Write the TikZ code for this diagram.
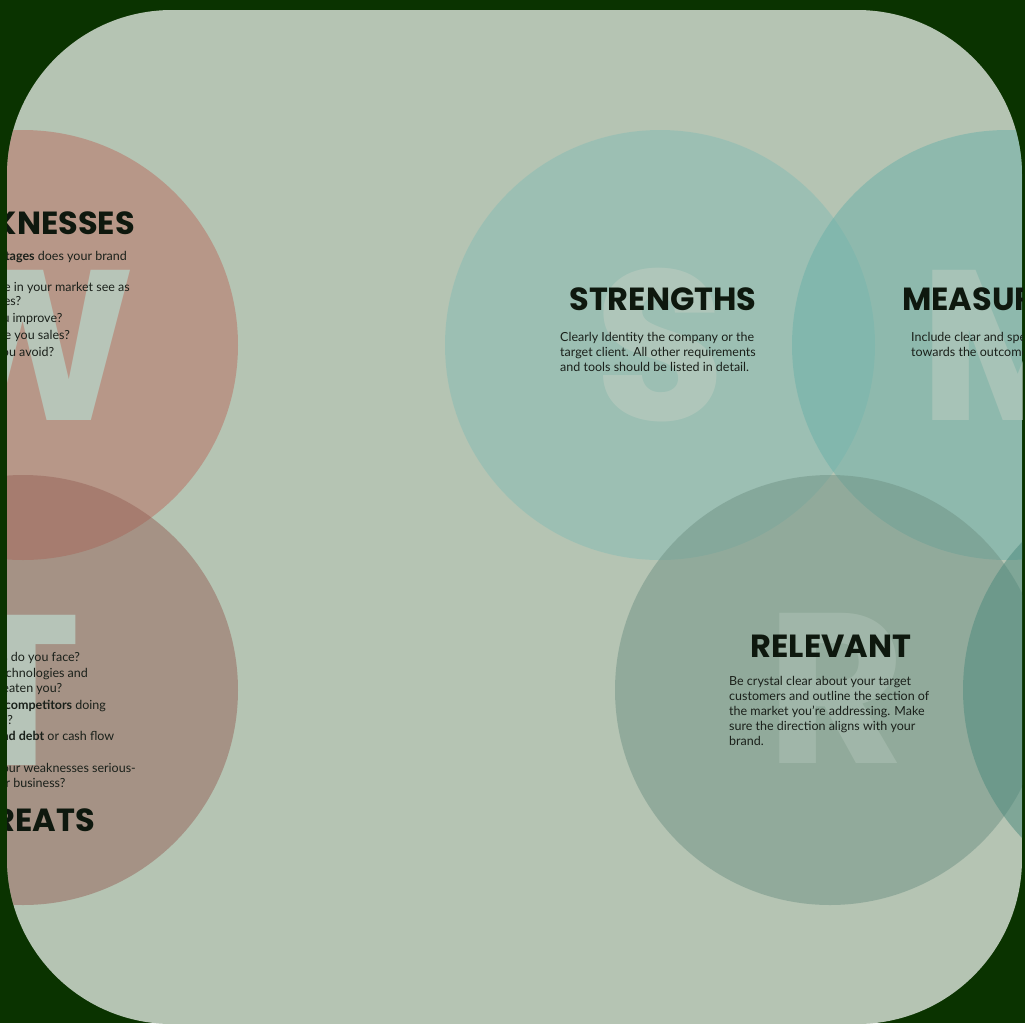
\documentclass[tikz,border=0pt]{standalone}
\usepackage{fontspec}
\setmainfont{Lato}
\newfontfamily\headfont{Poppins}
\definecolor{darkbg}{RGB}{10,51,0}
\definecolor{panel}{RGB}{181,196,179}
\definecolor{wcol}{RGB}{185,108,95}
\definecolor{tcol}{RGB}{150,98,88}
\definecolor{scol}{RGB}{133,188,179}
\definecolor{mcol}{RGB}{105,176,169}
\definecolor{rcol}{RGB}{111,146,133}
\definecolor{ocol}{RGB}{74,137,124}
\definecolor{bigc}{RGB}{184,202,190}
\definecolor{headc}{RGB}{14,24,14}
\definecolor{bodyc}{RGB}{26,32,26}

\begin{document}
\begin{tikzpicture}[x=1pt,y=-1pt,
    blob/.style={fill opacity=0.5},
    bigletter/.style={font=\headfont\fontsize{214}{214}\selectfont\bfseries, text=bigc, inner sep=0pt},
    head/.style={font=\headfont\fontsize{32}{33}\selectfont\bfseries, text=headc, inner sep=0pt},
    body/.style={font=\fontsize{12.5}{15}\selectfont, text=bodyc, align=left, inner sep=0pt}]
  \useasboundingbox (0,0) rectangle (1025,1023);
  \fill[darkbg] (0,0) rectangle (1025,1023);
  \begin{scope}
    \clip[rounded corners=165pt] (7,10) rectangle (1022,1024);
    \fill[panel] (7,10) rectangle (1022,1024);

    % circles
    \fill[blob, wcol] (23,345) circle[radius=215pt];
    \fill[blob, tcol] (23,690) circle[radius=215pt];
    \fill[blob, scol] (660,345) circle[radius=215pt];
    \fill[blob, mcol] (1007,345) circle[radius=215pt];
    \fill[blob, rcol] (830,690) circle[radius=215pt];
    \fill[blob, ocol] (1178,690) circle[radius=215pt];

    % big letters
    \node[bigletter, text opacity=0.9] (bigw) at (23,345) {W};
    \node[bigletter, text opacity=0.9] (bigt) at (18,690) {T};
    \node[bigletter, text opacity=0.7] (bigs) at (660,345) {S};
    \node[bigletter, text opacity=0.6] (bigm) at (1018,345) {M};
    \node[bigletter, text opacity=0.4] (bigr) at (836,688) {R};

    % strengths
    \node[head, anchor=base] (strhead) at (663,310) {STRENGTHS};
    \node[body, anchor=north west] (strtext) at (560,332)
      {Clearly Identity the company or the\\
       target client. All other requirements\\
       and tools should be listed in detail.};

    % measurable
    \node[head, anchor=base west] (meahead) at (902,310) {MEASURABLE};
    \node[body, anchor=north west] (meatext) at (911,332)
      {Include clear and specific\\
       towards the outcome};

    % relevant
    \node[head, anchor=base] (relhead) at (831,657) {RELEVANT};
    \node[body, anchor=north west] (reltext) at (729,676)
      {Be crystal clear about your target\\
       customers and outline the section of\\
       the market you’re addressing. Make\\
       sure the direction aligns with your\\
       brand.};

    % weaknesses
    \node[head, anchor=base east] (weahead) at (135,234) {WEAKNESSES};
    \node[body, font=\fontsize{12.5}{14}\selectfont, anchor=north east] (weatext) at (130,251)
      {What \textbf{disadvantages} does your brand\\
       have?\\[3pt]
       What do people in your market see as\\
       your weaknesses?\\[3pt]
       What could you improve?\\[3pt]
       What could lose you sales?\\[3pt]
       What should you avoid?};

    % threats
    \node[body, anchor=north east] (thrtext) at (136,652)
      {What obstacles do you face?\\[1.5pt]
       Do changing technologies and\\
       regulations threaten you?\\[1.5pt]
       What are your \textbf{competitors} doing\\
       better than you?\\[1.5pt]
       Do you have \textbf{bad debt} or cash flow\\
       problems?\\[1.5pt]
       Could any of your weaknesses serious-\\
       ly threaten your business?};
    \node[head, anchor=base east] (thrhead) at (95,831) {THREATS};
  \end{scope}
\end{tikzpicture}
\end{document}
